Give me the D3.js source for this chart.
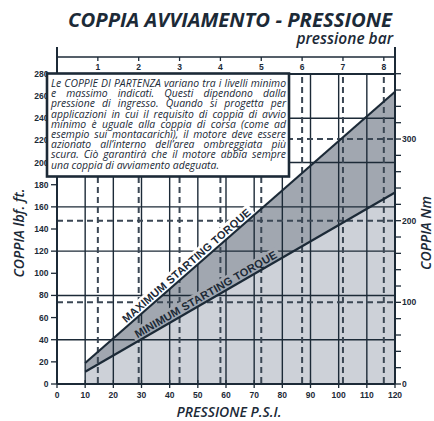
<!DOCTYPE html>
<html lang="it">
<head>
<meta charset="utf-8">
<script src="https://d3js.org/d3.v7.min.js"></script>
<style>
  body { margin: 0; background: #fff; }
  svg { display: block; }
</style>
</head>
<body>
<div id="chart"></div>
<script>
// pressure in psi, torque in lbf.ft
const pressure = [10, 120];
const maxTorque = [19, 264];
const minTorque = [11, 173];

const psiTicks = [0, 10, 20, 30, 40, 50, 60, 70, 80, 90, 100, 110, 120];
const lbfTicks = [0, 20, 40, 60, 80, 100, 120, 140, 160, 180, 200, 220, 240, 260, 280];
const lbfGrid = [40, 80, 120, 160, 200, 240];
const barTicks = [1, 2, 3, 4, 5, 6, 7, 8];
const nmTicks = [0, 100, 200, 300];
const nmMinor = [0, 20, 40, 60, 80, 100, 120, 140, 160, 180, 200, 220, 240, 260, 280, 300, 320, 340, 360, 380];

const noteLines = [
  "Le COPPIE DI PARTENZA variano tra i livelli minimo",
  "e massimo indicati. Questi dipendono dalla",
  "pressione di ingresso. Quando si progetta per",
  "applicazioni in cui il requisito di coppia di avvio",
  "minimo è uguale alla coppia di corsa (come ad",
  "esempio sui montacarichi), il motore deve essere",
  "azionato all’interno dell’area ombreggiata più",
  "scura. Ciò garantirà che il motore abbia sempre",
  "una coppia di avviamento adeguata."
];

const PSI_PER_BAR = 14.5038;
const NM_PER_LBF = 1.35582;

const ink = "#1c2a37";
const dashInk = "#3b4754";
const lightFill = "#cdd1d8";
const darkFill = "#a1a7b0";

const W = 434, H = 421;
const svg = d3.select("#chart").append("svg")
  .attr("width", W).attr("height", H);

const x = d3.scaleLinear().domain([0, 120]).range([57, 395]);
const y = d3.scaleLinear().domain([0, 280]).range([384, 74]);
const xBar = d3.scaleLinear().domain([0, 120 / PSI_PER_BAR]).range(x.range());
const yNm = d3.scaleLinear().domain([0, 280 * NM_PER_LBF]).range(y.range());

const rows = pressure.map((p, i) => ({ p: p, lo: minTorque[i], hi: maxTorque[i] }));

// shaded areas
svg.append("path").datum(rows)
  .attr("fill", lightFill)
  .attr("d", d3.area().x(d => x(d.p)).y0(y(0)).y1(d => y(d.lo)));
svg.append("path").datum(rows)
  .attr("fill", darkFill)
  .attr("d", d3.area().x(d => x(d.p)).y0(d => y(d.lo)).y1(d => y(d.hi)));

// solid grid
const grid = svg.append("g").attr("stroke", ink).attr("stroke-width", 1.4);
grid.selectAll(".gv").data(psiTicks.filter(v => v > 0 && v < 120)).join("line")
  .attr("x1", d => x(d)).attr("x2", d => x(d))
  .attr("y1", y(0)).attr("y2", y(280));
grid.selectAll(".gh").data(lbfGrid).join("line")
  .attr("x1", x(0)).attr("x2", x(120))
  .attr("y1", d => y(d)).attr("y2", d => y(d));

// dashed grid (bar / Nm)
const dash = svg.append("g").attr("stroke", dashInk).attr("stroke-width", 2)
  .attr("stroke-dasharray", "6,4");
dash.selectAll(".dv").data(barTicks).join("line")
  .attr("x1", d => xBar(d)).attr("x2", d => xBar(d))
  .attr("y1", y(280) + 3).attr("y2", y(0));
dash.selectAll(".dh").data(nmTicks.filter(v => v > 0)).join("line")
  .attr("x1", x(0)).attr("x2", x(120))
  .attr("y1", d => yNm(d)).attr("y2", d => yNm(d));

// labels along the curves
function curveLabel(lo, hi, p, txt, bg) {
  const x1 = x(pressure[0]), y1 = y(lo), x2 = x(pressure[1]), y2 = y(hi);
  const ang = Math.atan2(y2 - y1, x2 - x1) * 180 / Math.PI;
  const t = (p - pressure[0]) / (pressure[1] - pressure[0]);
  const cx = x(p), cy = y(lo + t * (hi - lo));
  const g = svg.append("g").attr("transform", `translate(${cx},${cy}) rotate(${ang})`);
  const r = g.append("rect").attr("fill", bg);
  const tx = g.append("text")
    .attr("y", -2.8)
    .attr("text-anchor", "middle")
    .attr("font-family", "Liberation Sans, Arial, sans-serif")
    .attr("font-weight", "bold")
    .attr("font-size", 11)
    .attr("letter-spacing", 0.2)
    .attr("fill", ink)
    .text(txt);
  const len = tx.node().getComputedTextLength();
  r.attr("x", -len / 2 - 3).attr("width", len + 6).attr("y", -13).attr("height", 13);
}
curveLabel(maxTorque[0], maxTorque[1], 47.5, "MAXIMUM STARTING TORQUE", "#fff");
curveLabel(minTorque[0], minTorque[1], 54, "MINIMUM STARTING TORQUE", darkFill);

// curves
const line = d3.line().x(d => x(d[0])).y(d => y(d[1]));
svg.append("path").datum(pressure.map((p, i) => [p, maxTorque[i]]))
  .attr("fill", "none").attr("stroke", ink).attr("stroke-width", 2.2).attr("d", line);
svg.append("path").datum(pressure.map((p, i) => [p, minTorque[i]]))
  .attr("fill", "none").attr("stroke", ink).attr("stroke-width", 2.2).attr("d", line);

// frame
const frame = svg.append("g").attr("stroke", ink).attr("stroke-width", 2).attr("fill", "none");
frame.append("line").attr("x1", x(0)).attr("x2", x(120)).attr("y1", y(0)).attr("y2", y(0));
frame.append("line").attr("x1", x(0)).attr("x2", x(120)).attr("y1", y(280)).attr("y2", y(280));
frame.append("line").attr("x1", x(0)).attr("x2", x(0)).attr("y1", 47).attr("y2", y(0));
frame.append("line").attr("x1", x(120)).attr("x2", x(120)).attr("y1", 47).attr("y2", y(0));
frame.append("line").attr("x1", x(0)).attr("x2", x(120)).attr("y1", 57).attr("y2", 57)
  .attr("stroke-width", 1.5);

const tickFont = g => g.attr("font-family", "Liberation Sans, Arial, sans-serif")
  .attr("font-weight", "bold").attr("font-size", 8.5).attr("fill", ink);

// bottom axis (psi)
const bx = svg.append("g").call(tickFont);
bx.selectAll("line").data(psiTicks).join("line")
  .attr("stroke", ink).attr("stroke-width", 1.3)
  .attr("x1", d => x(d)).attr("x2", d => x(d)).attr("y1", y(0) - 4).attr("y2", y(0) + 4);
bx.selectAll("text").data(psiTicks).join("text")
  .attr("x", d => x(d)).attr("y", y(0) + 14).attr("text-anchor", "middle").text(d => d);

// left axis (lbf.ft)
const ly = svg.append("g").call(tickFont);
ly.selectAll("line").data(lbfTicks).join("line")
  .attr("stroke", ink).attr("stroke-width", 1.3)
  .attr("x1", x(0) - 6).attr("x2", x(0)).attr("y1", d => y(d)).attr("y2", d => y(d));
ly.selectAll("text").data(lbfTicks).join("text")
  .attr("x", x(0) - 8.5).attr("y", d => y(d) + 3).attr("text-anchor", "end").text(d => d);

// right axis (Nm)
const ry = svg.append("g").call(tickFont);
ry.selectAll("line").data(nmMinor).join("line")
  .attr("stroke", ink).attr("stroke-width", 1.3)
  .attr("x1", x(120)).attr("x2", x(120) + 6).attr("y1", d => yNm(d)).attr("y2", d => yNm(d));
ry.selectAll("text").data(nmTicks).join("text")
  .attr("x", x(120) + 7).attr("y", d => yNm(d) + 3).text(d => d);

// top axis (bar)
const tx = svg.append("g").call(tickFont);
tx.selectAll("line").data(barTicks).join("line")
  .attr("stroke", ink).attr("stroke-width", 1.3)
  .attr("x1", d => xBar(d)).attr("x2", d => xBar(d)).attr("y1", 57).attr("y2", 61);
tx.selectAll("text").data(barTicks).join("text")
  .attr("x", d => xBar(d)).attr("y", 69.5).attr("text-anchor", "middle").text(d => d);

// note box
const box = { x0: 47, y0: 73.5, x1: 289, y1: 176.5 };
svg.append("rect")
  .attr("x", box.x0).attr("y", box.y0)
  .attr("width", box.x1 - box.x0).attr("height", box.y1 - box.y0)
  .attr("fill", "#fff").attr("stroke", ink).attr("stroke-width", 2.6);

const note = svg.append("g")
  .attr("font-family", "Open Sans, sans-serif")
  .attr("font-style", "italic")
  .attr("font-weight", 500)
  .attr("font-size", 10.4)
  .attr("fill", ink);
const left = 51, right = 286;
noteLines.forEach((ln, i) => {
  const yy = 87 + i * 10.2;
  const words = ln.split(" ");
  const last = i === noteLines.length - 1;
  const widths = words.map(w => {
    const t = note.append("text").text(w);
    const wd = t.node().getComputedTextLength();
    t.remove();
    return wd;
  });
  const sum = d3.sum(widths);
  let gap = last ? 2.7 : (right - left - sum) / (words.length - 1);
  let sx = 1;
  if (gap < 2) { sx = (right - left - 2 * (words.length - 1)) / sum; gap = 2; }
  let cx = left;
  words.forEach((w, j) => {
    const t = note.append("text").attr("x", cx).attr("y", yy).text(w);
    if (sx < 1) t.attr("textLength", widths[j] * sx).attr("lengthAdjust", "spacingAndGlyphs");
    cx += widths[j] * sx + gap;
  });
});

// titles
const titleFont = s => s.attr("font-family", "Open Sans, sans-serif")
  .attr("font-style", "italic").attr("fill", ink);
svg.append("text").call(titleFont)
  .attr("x", 392).attr("y", 27).attr("text-anchor", "end")
  .attr("font-weight", 700).attr("font-size", 20.3)
  .text("COPPIA AVVIAMENTO - PRESSIONE");
svg.append("text").call(titleFont)
  .attr("x", 393).attr("y", 43.5).attr("text-anchor", "end")
  .attr("font-weight", 600).attr("font-size", 15.5)
  .text("pressione bar");
svg.append("text").call(titleFont)
  .attr("transform", "translate(24,233) rotate(-90)").attr("text-anchor", "middle")
  .attr("font-weight", 600).attr("font-size", 14)
  .text("COPPIA lbf. ft.");
svg.append("text").call(titleFont)
  .attr("transform", "translate(431,233) rotate(-90)").attr("text-anchor", "middle")
  .attr("font-weight", 600).attr("font-size", 14)
  .text("COPPIA Nm");
svg.append("text").call(titleFont)
  .attr("x", 229).attr("y", 417).attr("text-anchor", "middle")
  .attr("font-weight", 600).attr("font-size", 14)
  .text("PRESSIONE P.S.I.");
</script>
</body>
</html>
